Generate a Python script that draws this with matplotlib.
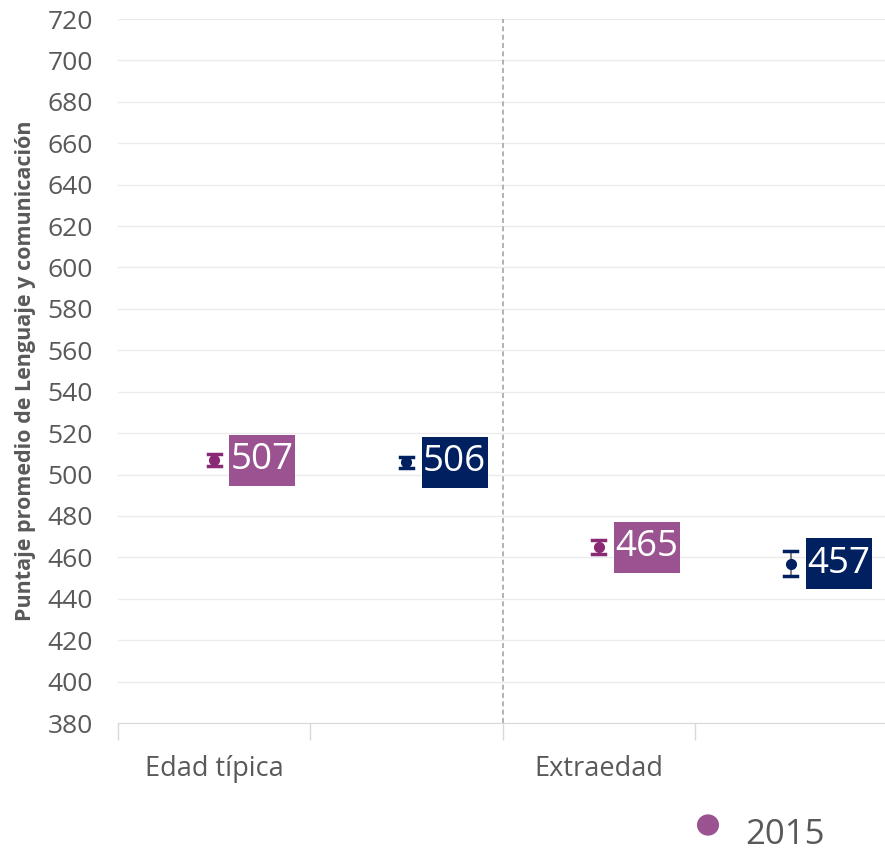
import matplotlib.pyplot as plt
from matplotlib.patches import Rectangle

# data
categories = ['Edad típica', 'Extraedad']
years = ['2015', '2018']
scores_2015 = [507, 465]
scores_2018 = [506, 457]
err_2015 = [2.7, 3.6]
err_2018 = [2.7, 6.0]

plt.rcParams['font.family'] = ['Open Sans', 'DejaVu Sans']

fig = plt.figure(figsize=(8.85, 8.52), dpi=100)
ax = fig.add_axes([118 / 885, 1 - 723 / 852, 769 / 885, (723 - 19) / 852])

marker_cols = ['#8A2A75', '#002060']
box_cols = ['#9B5290', '#002060']

ax.set_xlim(0, 4)
ax.set_ylim(380, 720)

labels = []
series = [(scores_2015, err_2015), (scores_2018, err_2018)]
for s, (vals, errs) in enumerate(series):
    xs = [g * 2 + s + 0.5 for g in range(len(categories))]
    ax.errorbar(xs, vals, yerr=errs, fmt='o', color=marker_cols[s], ecolor='#7f7f7f',
                elinewidth=1.5, capsize=0, markersize=7, zorder=3)
    # caps in the series colour
    for x, v, e in zip(xs, vals, errs):
        ax.plot([x - 0.034, x + 0.034], [v - e, v - e], color=marker_cols[s], lw=2.5, zorder=4)
        ax.plot([x - 0.034, x + 0.034], [v + e, v + e], color=marker_cols[s], lw=2.5, zorder=4)
        t = ax.annotate(str(v), (x, v), xytext=(12, 0), textcoords='offset points',
                        ha='left', va='center', fontsize=26.5, color='white', zorder=6)
        labels.append((t, box_cols[s]))

ax.set_yticks(range(380, 721, 20))
ax.tick_params(axis='y', length=0, labelsize=19, labelcolor='#595959', pad=18)
ax.grid(axis='y', color='#EBEBEB', lw=1)
ax.set_axisbelow(True)

ax.set_xticks([0, 1, 2, 3, 4])
ax.set_xticklabels([])
ax.tick_params(axis='x', length=12, color='#D9D9D9', width=1)
for g, cat in enumerate(categories):
    ax.text(g * 2 + 0.5, -0.065, cat, transform=ax.get_xaxis_transform(),
            ha='center', va='center', fontsize=19.5, color='#595959')

ax.axvline(2, color='#A6A6A6', lw=1.2, ls=(0, (3, 2)), zorder=1)

for sp in ['top', 'right', 'left']:
    ax.spines[sp].set_visible(False)
ax.spines['bottom'].set_color('#D9D9D9')

ax.set_ylabel('Puntaje promedio de Lenguaje y comunicación', fontsize=15.5,
              fontweight='bold', color='#595959')
ax.yaxis.set_label_coords(-(118 - 36) / 769, 0.5)

# boxes behind the value labels: tight left/right, roomy top/bottom
fig.canvas.draw()
rend = fig.canvas.get_renderer()
inv = ax.transData.inverted()
for t, col in labels:
    bb = t.get_window_extent(rend)
    (x0, y0) = inv.transform((bb.x0 - 1.5, bb.y0 - 7.5))
    (x1, y1) = inv.transform((bb.x1 + 1.5, bb.y1 + 7.5))
    ax.add_patch(Rectangle((x0, y0), x1 - x0, y1 - y0, fc=col, ec='none', zorder=5))

# legend (only the first entry is visible in the frame)
fig.patches.append(plt.Circle((708 / 885, 1 - 825 / 852), 0.0125, transform=fig.transFigure,
                              fc=box_cols[0], ec='none'))
fig.text(745 / 885, 1 - 835 / 852, years[0], fontsize=25, color='#595959',
         ha='left', va='center')

fig.savefig('out.png', dpi=100)
